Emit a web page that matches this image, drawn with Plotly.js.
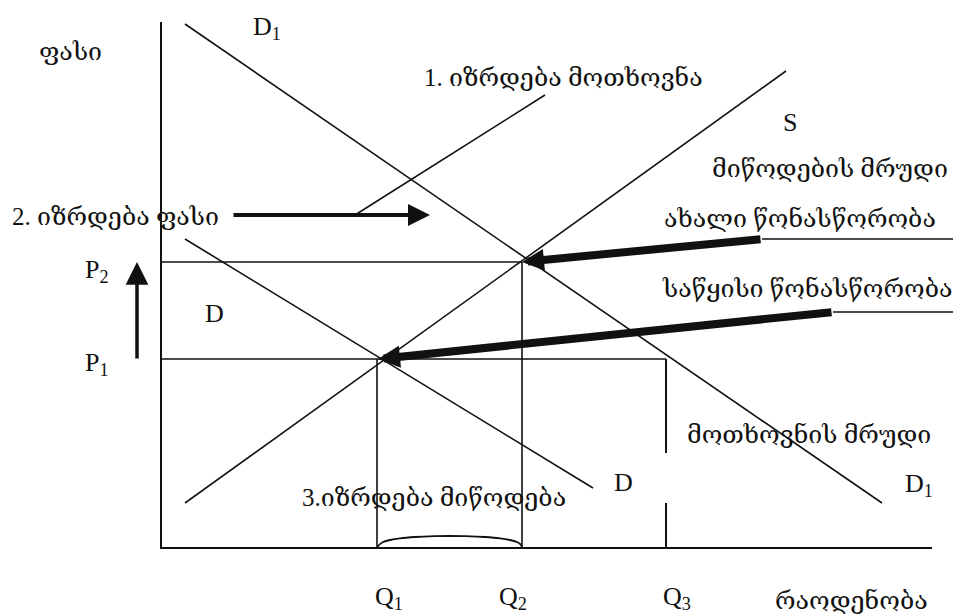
<!DOCTYPE html>
<html>
<head>
<meta charset="utf-8">
<script src="https://cdn.plot.ly/plotly-3.0.1.min.js"></script>
<style>html,body{margin:0;padding:0;background:#fff;}#chart{width:953px;height:616px;}</style>
</head>
<body>
<div id="chart"></div>
<script>
// ---- diagram data (canvas units: x to the right, y downward) ----
var axisX = [161, 161, 932];
var axisY = [22, 548, 548];

var d1X = [185, 882];            // demand curve D1
var d1Y = [24, 503];
var dX = [185, 593];             // demand curve D
var dY = [239, 488];
var sX = [185, 786];             // supply curve S
var sY = [503, 71];
var pointerX = [355, 545];       // "1. demand increases" pointer
var pointerY = [215, 95];

var p2LineX = [161, 522];
var p2LineY = [262, 262];
var p1LineX = [161, 666];
var p1LineY = [359, 359];
var q1LineX = [377, 377];
var q1LineY = [359, 548];
var q2LineX = [522, 522];
var q2LineY = [262, 548];
var q3UpperX = [666, 666];
var q3UpperY = [359, 453];
var q3LowerX = [666, 666];
var q3LowerY = [503, 548];
var newEqLeaderX = [762, 953];
var newEqLeaderY = [239, 239];
var initEqLeaderX = [833, 953];
var initEqLeaderY = [312, 312];

var arcX = [377, 379, 383, 390, 400, 415, 435, 450, 465, 485, 500, 510, 517, 521, 522];
var arcY = [548, 545, 542, 540, 538.3, 537, 536.2, 536, 536.2, 537, 538.3, 540, 542, 545, 548];

// arrows: tail -> tip
var arrowTailX = [762, 833, 137, 232];
var arrowTailY = [239, 312, 360, 215];
var arrowTipX  = [522, 378, 137, 430];
var arrowTipY  = [262, 359, 262, 215];
var arrowWidth = [8, 8, 3.5, 4];
var arrowSize  = [0.55, 0.55, 1.3, 1.1];

// text labels (isGeo: Georgian phrase)
var labelText = [
  "ფასი", "D<sub>1</sub>", "1. იზრდება მოთხოვნა", "S", "მიწოდების მრუდი",
  "2. იზრდება ფასი", "ახალი წონასწორობა", "P<sub>2</sub>", "საწყისი წონასწორობა",
  "D", "P<sub>1</sub>", "მოთხოვნის მრუდი", "D", "D<sub>1</sub>", "3.იზრდება მიწოდება",
  "Q<sub>1</sub>", "Q<sub>2</sub>", "Q<sub>3</sub>", "რაოდენობა"
];
var labelX = [37, 251, 422, 781, 710, 10, 662, 83, 660, 203, 83, 685, 612, 903, 300, 373, 497, 661, 773];
var labelY = [51, 28, 77, 122, 168, 216, 218, 271, 288, 313, 364, 434, 482, 485, 497, 598, 598, 598, 600];
var labelIsGeo = [1, 0, 1, 0, 1, 1, 1, 0, 1, 0, 0, 1, 0, 0, 1, 0, 0, 0, 1];

// ---- build traces ----
function seg(x, y, w) {
  return {x: x, y: y, type: 'scatter', mode: 'lines', hoverinfo: 'skip',
          line: {color: '#111', width: w || 1.6}, showlegend: false};
}
var traces = [
  seg(axisX, axisY, 2),
  seg(d1X, d1Y), seg(dX, dY), seg(sX, sY), seg(pointerX, pointerY),
  seg(p2LineX, p2LineY), seg(p1LineX, p1LineY),
  seg(q1LineX, q1LineY), seg(q2LineX, q2LineY),
  seg(q3UpperX, q3UpperY, 2), seg(q3LowerX, q3LowerY, 2),
  seg(newEqLeaderX, newEqLeaderY), seg(initEqLeaderX, initEqLeaderY)
];
var arc = seg(arcX, arcY, 1.8);
arc.line.shape = 'spline';
traces.push(arc);

var family = '"Liberation Serif", "DejaVu Serif", serif';
var annotations = [];
for (var i = 0; i < arrowTailX.length; i++) {
  annotations.push({
    x: arrowTipX[i], y: arrowTipY[i], xref: 'x', yref: 'y',
    ax: arrowTailX[i], ay: arrowTailY[i], axref: 'x', ayref: 'y',
    text: '', showarrow: true, arrowhead: 2, arrowwidth: arrowWidth[i],
    arrowsize: arrowSize[i], arrowcolor: '#111'
  });
}
for (var j = 0; j < labelText.length; j++) {
  annotations.push({
    x: labelX[j], y: labelY[j], xref: 'x', yref: 'y', text: labelText[j],
    showarrow: false, xanchor: 'left', yanchor: 'middle',
    font: {family: family, size: labelIsGeo[j] ? 25 : 26, color: '#111'}
  });
}

var layout = {
  width: 953, height: 616,
  margin: {l: 0, r: 0, t: 0, b: 0},
  paper_bgcolor: '#fff', plot_bgcolor: '#fff',
  xaxis: {range: [0, 953], visible: false, fixedrange: true},
  yaxis: {range: [616, 0], visible: false, fixedrange: true},
  annotations: annotations,
  showlegend: false
};
Plotly.newPlot('chart', traces, layout, {staticPlot: true});
</script>
</body>
</html>
